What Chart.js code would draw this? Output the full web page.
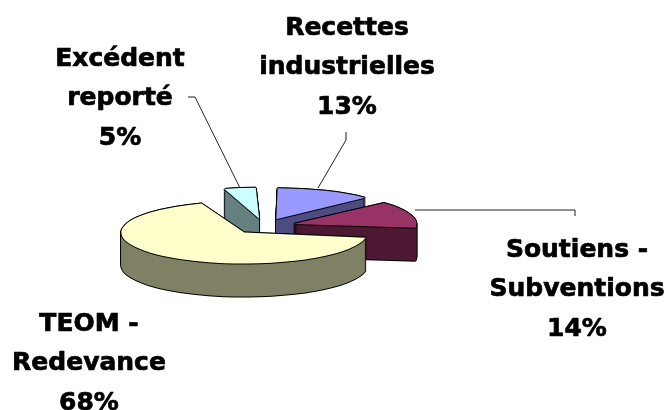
<!DOCTYPE html>
<html>
<head>
<meta charset="utf-8">
<style>
  html, body { margin: 0; background: #fff; }
  #wrap { width: 664px; height: 410px; }
</style>
<script src="https://cdn.jsdelivr.net/npm/chart.js@4/dist/chart.umd.min.js"></script>
</head>
<body>
<div id="wrap"><canvas id="pie"></canvas></div>
<script>
const names = [['Excédent', 'reporté'], ['Recettes', 'industrielles'], ['Soutiens -', 'Subventions'], ['TEOM -', 'Redevance']];
const values = [5, 13, 14, 68];
const topColors = ['#CCFFFF', '#9999FF', '#993366', '#FFFFCC'];
const wallColors = ['#668080', '#4D4D80', '#4D1933', '#808066'];
const labelSpots = [[120, 59], [347, 28], [577, 250], [89, 324]];
const leaders = [
  [[188, 97], [195, 97], [240, 188]],
  [[346, 132], [346, 140], [318, 188]],
  [[415, 210], [575, 210], [575, 216]]
];

const squash = 0.2526;
const depth = 33;
const pieRadius = 123;
const explode = 31;

function paint(ctx, arc, color, dx, dy) {
  const saved = arc.options;
  const savedRadius = arc.outerRadius;
  arc.options = Object.assign(Object.create(saved), {
    backgroundColor: color, borderColor: color, borderWidth: 0
  });
  // arc.draw grows small slices by less than the offset, even them out
  const fix = 1 - Math.sin(Math.min(Math.PI, arc.circumference));
  arc.outerRadius = pieRadius - explode * fix;
  const cy = arc.y;
  ctx.save();
  ctx.translate(dx, cy + dy);
  ctx.scale(1, squash);
  ctx.translate(0, -cy);
  arc.draw(ctx);
  ctx.restore();
  arc.options = saved;
  arc.outerRadius = savedRadius;
}

// excel style 3d pie: squashed slices stacked downward
const pie3d = {
  id: 'pie3d',
  beforeDatasetDraw(chart, args) {
    const ctx = chart.ctx;
    args.meta.data.forEach((arc, i) => {
      for (const [ox, oy] of [[-1, 0], [1, 0], [0, -1], [0, 1]]) {
        for (let d = depth; d >= 0; d--) paint(ctx, arc, '#000', ox, d + oy);
      }
      for (let d = depth; d >= 1; d--) paint(ctx, arc, wallColors[i], 0, d);
      for (const [ox, oy] of [[-1, 0], [1, 0], [0, -1], [0, 1]]) paint(ctx, arc, '#000', ox, oy);
      paint(ctx, arc, topColors[i], 0, 0);
    });
    return false;
  },
  afterDraw(chart) {
    const ctx = chart.ctx;
    ctx.save();
    ctx.strokeStyle = '#222';
    ctx.lineWidth = 1;
    leaders.forEach(pts => {
      ctx.beginPath();
      pts.forEach((p, i) => i ? ctx.lineTo(p[0], p[1]) : ctx.moveTo(p[0], p[1]));
      ctx.stroke();
    });
    ctx.font = 'bold 25px "DejaVu Sans"';
    ctx.textAlign = 'center';
    ctx.textBaseline = 'middle';
    ctx.fillStyle = '#000';
    ctx.strokeStyle = '#000';
    ctx.lineWidth = 0.7;
    ctx.lineJoin = 'round';
    names.forEach((lines, i) => {
      const rows = [...lines, values[i] + '%'];
      rows.forEach((t, r) => {
        const y = labelSpots[i][1] + r * 39.5;
        ctx.fillText(t, labelSpots[i][0], y);
        ctx.strokeText(t, labelSpots[i][0], y);
      });
    });
    ctx.restore();
  }
};

new Chart(document.getElementById('pie'), {
  type: 'pie',
  data: {
    labels: names.map(n => n.join(' ')),
    datasets: [{
      data: values,
      backgroundColor: topColors,
      offset: explode * 4,
      borderWidth: 0,
      clip: false
    }]
  },
  options: {
    responsive: true,
    maintainAspectRatio: false,
    animation: false,
    events: [],
    rotation: -18,
    radius: pieRadius - explode,
    layout: { padding: { top: 43, right: 136 } },
    plugins: { legend: { display: false }, tooltip: { enabled: false } }
  },
  plugins: [pie3d]
});
</script>
</body>
</html>
